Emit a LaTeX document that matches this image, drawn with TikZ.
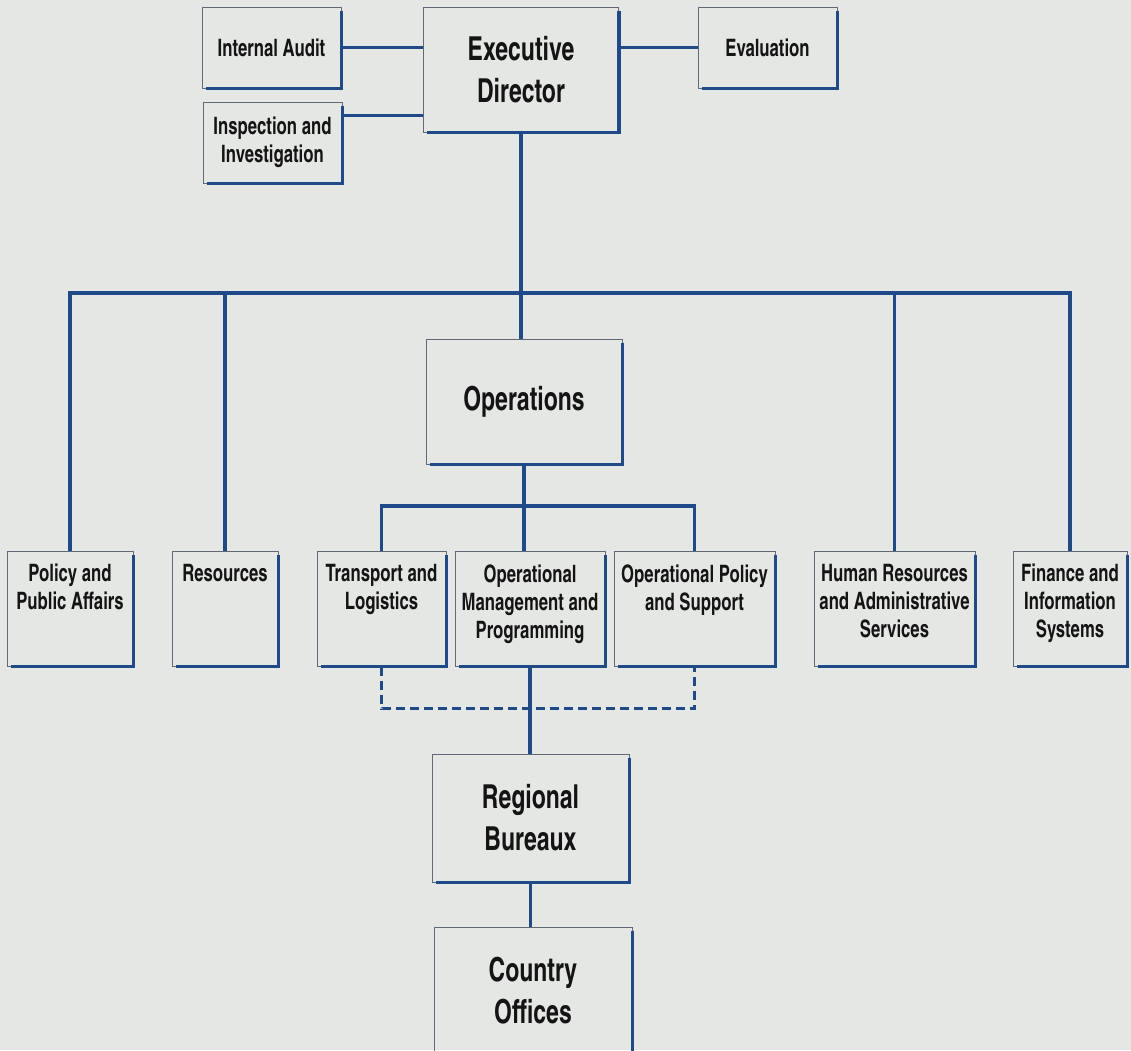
\documentclass[tikz,border=0pt]{standalone}
\usepackage{fontspec}
\setmainfont{texgyreheroscn}[Extension=.otf,UprightFont=*-regular,BoldFont=*-bold,FakeStretch=0.85]
\definecolor{orgblue}{RGB}{30,74,138}
\definecolor{paper}{RGB}{228,231,227}
\definecolor{rimgray}{RGB}{95,105,120}
\newcommand{\lowbox}[2]{\parbox[c][115pt][t]{#1}{\vspace*{13pt}\centering #2}}
\begin{document}
\begin{tikzpicture}[x=1pt,y=-1pt,
  link/.style={orgblue,line width=3.6pt},
  dashlink/.style={orgblue,line width=3.6pt,dash pattern=on 9pt off 5pt},
  unit/.style={draw=rimgray,line width=0.6pt,inner sep=0pt,align=center,text=black!92,
    font=\bfseries\fontsize{24}{28}\selectfont},
  chief/.style={unit,font=\bfseries\fontsize{33}{42}\selectfont}]
\clip (0,0) rectangle (1131,1050);
\fill[paper] (0,0) rectangle (1131,1050);

\node[chief,minimum width=195pt,minimum height=125pt] (exec) at (521,69.5) {Executive\\Director};
\node[unit,minimum width=139pt,minimum height=81pt] (audit) at (271.5,47.5) {Internal Audit};
\node[unit,minimum width=139pt,minimum height=81pt] (inspect) at (272.5,142.5) {Inspection and\\Investigation};
\node[unit,minimum width=139pt,minimum height=81pt] (eval) at (767.5,47.5) {Evaluation};
\node[chief,minimum width=196pt,minimum height=125pt] (ops) at (524,401.5) {Operations};

\node[unit,anchor=north] (policy) at (70,551) {\lowbox{126pt}{Policy and\\Public Affairs}};
\node[unit,anchor=north] (resources) at (225,551) {\lowbox{106pt}{Resources}};
\node[unit,anchor=north] (transport) at (381.5,551) {\lowbox{129pt}{Transport and\\Logistics}};
\node[unit,anchor=north] (opmgmt) at (530,551) {\lowbox{150pt}{Operational\\Management and\\Programming}};
\node[unit,anchor=north] (oppolicy) at (694.5,551) {\lowbox{161pt}{Operational Policy\\and Support}};
\node[unit,anchor=north] (hr) at (894.5,551) {\lowbox{161pt}{Human Resources\\and Administrative\\Services}};
\node[unit,anchor=north] (finance) at (1070,551) {\lowbox{114pt}{Finance and\\Information\\Systems}};

\node[chief,minimum width=197pt,minimum height=128pt] (regional) at (530.5,818) {Regional\\Bureaux};
\node[chief,minimum width=198pt,minimum height=128pt] (country) at (533,991) {Country\\Offices};

\foreach \n in {exec,audit,inspect,eval,ops,policy,resources,transport,opmgmt,oppolicy,hr,finance,regional,country}
  \draw[link] ([yshift=-4pt]\n.north east) -- (\n.south east) -- ([xshift=4pt]\n.south west);

\coordinate (bus) at (0,293);
\coordinate (subbus) at (0,506);
\draw[link] (audit.east) -- (audit.east -| exec.west);
\draw[link] ([yshift=27pt]inspect.east) -- ([yshift=27pt]inspect.east -| exec.west);
\draw[link] (eval.west) -- (eval.west -| exec.east);
\draw[link] (exec.south) -- (exec.south |- ops.north);
\draw[link] (policy.north) |- (bus -| finance.north) -- (finance.north);
\foreach \n in {resources,hr}
  \draw[link] (\n.north) -- (\n.north |- bus);
\draw[link] (ops.south) -- (ops.south |- opmgmt.north);
\draw[link] (transport.north) |- (subbus -| oppolicy.north) -- (oppolicy.north);
\draw[dashlink] (transport.south) -- ++(0,42) -| (oppolicy.south);
\draw[link] (opmgmt.south) -- (opmgmt.south |- regional.north);
\draw[link] (regional.south) -- (regional.south |- country.north);
\end{tikzpicture}
\end{document}
